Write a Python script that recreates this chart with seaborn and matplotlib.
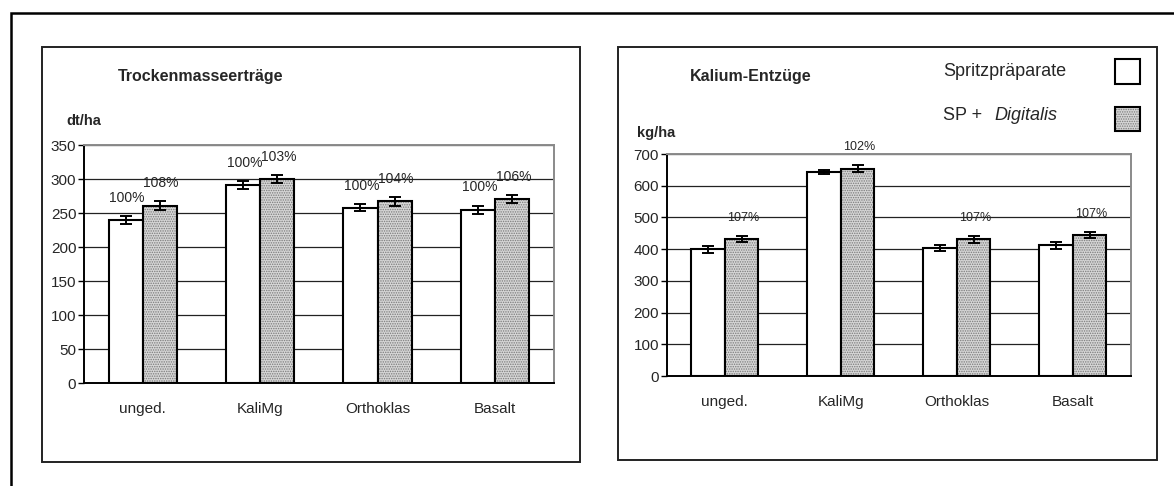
import numpy as np
import pandas as pd
import matplotlib
matplotlib.use("Agg")
import matplotlib.pyplot as plt
from matplotlib.patches import Rectangle
import seaborn as sns

# --- data ---
categories = ['unged.', 'KaliMg', 'Orthoklas', 'Basalt']
series = ['Spritzpräparate', 'SP + Digitalis']

tm_sp = [240, 291, 258, 255]
tm_sp_err = [6, 6, 5, 6]
tm_dig = [261, 300, 267, 270]
tm_dig_err = [6, 6, 6, 6]
tm_sp_pct = ['100%', '100%', '100%', '100%']
tm_dig_pct = ['108%', '103%', '104%', '106%']

k_sp = [399, 642, 404, 412]
k_sp_err = [10, 6, 10, 11]
k_dig = [431, 654, 431, 444]
k_dig_err = [10, 11, 11, 9]
k_dig_pct = ['107%', '102%', '107%', '107%']

tm_ticks = list(range(0, 351, 50))
k_ticks = list(range(0, 701, 100))

sns.set_style('ticks')
plt.rcParams['font.family'] = ['Liberation Sans Narrow', 'Liberation Sans', 'DejaVu Sans']
plt.rcParams['hatch.linewidth'] = 0.7

DOT_FACE = '#d6d6d6'
DOT_HATCH = '#7a7a7a'


def make_df(sp, dig):
    return pd.DataFrame({
        'cat': categories * 2,
        'val': list(sp) + list(dig),
        'ser': [series[0]] * 4 + [series[1]] * 4,
    })


def draw_panel(ax, sp, sp_err, dig, dig_err, ticks, sp_pct, dig_pct, pct_size, pct_off):
    df = make_df(sp, dig)
    sns.barplot(data=df, x='cat', y='val', hue='ser', order=categories,
                hue_order=series, palette=['white', DOT_FACE], errorbar=None,
                width=0.58, edgecolor='black', linewidth=1.5, legend=False,
                saturation=1, ax=ax, zorder=2)

    # dotted fill for the second series + outline on top
    for p in ax.containers[1]:
        p.set_hatch('.......')
        p.set_edgecolor(DOT_HATCH)
        p.set_linewidth(0)
        ax.add_patch(Rectangle(p.get_xy(), p.get_width(), p.get_height(),
                               fill=False, edgecolor='black', lw=1.5, zorder=3))

    for cont, vals, errs, pcts in [(ax.containers[0], sp, sp_err, sp_pct),
                                   (ax.containers[1], dig, dig_err, dig_pct)]:
        xs = [p.get_x() + p.get_width() / 2 for p in cont]
        ax.errorbar(xs, vals, yerr=errs, fmt='none', ecolor='black',
                    elinewidth=1.4, capsize=4.5, capthick=1.4, zorder=4)
        if pcts is None:
            continue
        for x, v, e, t in zip(xs, vals, errs, pcts):
            ax.annotate(t, (x, v + e), xytext=(1, pct_off), textcoords='offset points',
                        ha='center', va='center', fontsize=pct_size, clip_on=False)

    ax.set_ylim(ticks[0], ticks[-1])
    ax.set_xlim(-0.5, len(categories) - 0.5)
    ax.set_yticks(ticks)
    ax.set_xlabel('')
    ax.set_ylabel('')
    ax.yaxis.grid(True, color='#222222', lw=0.9)
    ax.set_axisbelow(True)
    ax.tick_params(axis='x', length=0, pad=14, labelsize=11)
    ax.tick_params(axis='y', length=4, width=1, pad=1.5, labelsize=11, color='black')
    for s in ['left', 'bottom']:
        ax.spines[s].set_color('black')
        ax.spines[s].set_linewidth(1.4)
    for s in ['top', 'right']:
        ax.spines[s].set_visible(True)
        ax.spines[s].set_color('#8a8a8a')
        ax.spines[s].set_linewidth(1.4)


W, H = 1174, 486
fig = plt.figure(figsize=(W / 100, H / 100), dpi=100)


def fx(px):
    return px / W


def fy(py):
    return 1 - py / H


# outer frame and panel frames
fig.patches.append(Rectangle((fx(11), -0.2), 1.2, fy(13) + 0.2, fill=False,
                             edgecolor='black', lw=1.8, transform=fig.transFigure))
fig.patches.append(Rectangle((fx(42), fy(462)), fx(538), (462 - 47) / H, fill=False,
                             edgecolor='#222222', lw=1.4, transform=fig.transFigure))
fig.patches.append(Rectangle((fx(618), fy(460)), fx(539), (460 - 47) / H, fill=False,
                             edgecolor='#222222', lw=1.4, transform=fig.transFigure))

ax1 = fig.add_axes([fx(84), fy(383), fx(469.6), (383 - 145) / H])
ax2 = fig.add_axes([fx(666.7), fy(376), fx(464), (376 - 154) / H])

draw_panel(ax1, tm_sp, tm_sp_err, tm_dig, tm_dig_err, tm_ticks,
           tm_sp_pct, tm_dig_pct, 10, 13)
draw_panel(ax2, k_sp, k_sp_err, k_dig, k_dig_err, k_ticks,
           None, k_dig_pct, 9, 13)

# titles and units
fig.text(fx(118), fy(76), 'Trockenmasseerträge', fontsize=11.5, fontweight='bold', va='center')
fig.text(fx(66), fy(121), 'dt/ha', fontsize=10.5, fontweight='bold', va='center')
fig.text(fx(690), fy(76), 'Kalium-Entzüge', fontsize=11.5, fontweight='bold', va='center')
fig.text(fx(637), fy(133), 'kg/ha', fontsize=10.5, fontweight='bold', va='center')

# legend (text left, swatch right)
leg_font = ['Liberation Sans', 'DejaVu Sans']
fig.text(fx(943), fy(71), series[0], fontsize=13, va='center', family=leg_font)
fig.text(fx(943), fy(116), 'SP + ', fontsize=13, va='center', family=leg_font)
fig.text(fx(994), fy(116), 'Digitalis', fontsize=13, va='center', style='italic', family=leg_font)
fig.patches.append(Rectangle((fx(1115), fy(84)), fx(25), 25 / H, facecolor='white',
                             edgecolor='black', lw=1.5, transform=fig.transFigure))
fig.patches.append(Rectangle((fx(1115), fy(131)), fx(25), 24 / H, facecolor=DOT_FACE,
                             edgecolor=DOT_HATCH, lw=0, hatch='.......', transform=fig.transFigure))
fig.patches.append(Rectangle((fx(1115), fy(131)), fx(25), 24 / H, fill=False,
                             edgecolor='black', lw=1.5, transform=fig.transFigure))

fig.savefig('out.png', dpi=100, facecolor='white')
